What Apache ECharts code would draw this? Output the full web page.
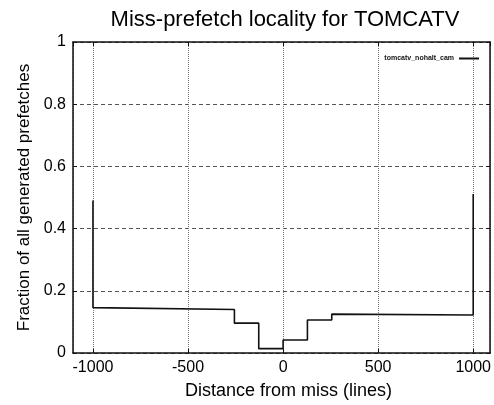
<!DOCTYPE html>
<html>
<head>
<meta charset="utf-8">
<script src="https://cdn.jsdelivr.net/npm/echarts@6/dist/echarts.min.js"></script>
<style>
  html, body { margin: 0; padding: 0; background: #fff; }
  #chart { width: 494px; height: 405px; }
</style>
</head>
<body>
<div id="chart"></div>
<script>
// step outline of the locality histogram
var distance = [-1000, -1000, -256, -256, -128, -128, 0, 0, 128, 128, 256, 256, 1000, 1000];
var fraction = [0.49, 0.146, 0.14, 0.096, 0.096, 0.014, 0.014, 0.042, 0.042, 0.106, 0.106, 0.125, 0.122, 0.511];
var seriesName = 'tomcatv_nohalt_cam';

var points = [];
for (var i = 0; i < distance.length; i++) {
	points.push([distance[i], fraction[i]]);
}

var chart = echarts.init(document.getElementById('chart'));
var font = 'Liberation Sans, Arial, sans-serif';
var option = {
	backgroundColor: '#fff',
	animation: false,
	title: {
		text: 'Miss-prefetch locality for TOMCATV',
		left: 280,
		textAlign: 'center',
		top: 4,
		textStyle: { fontFamily: font, fontSize: 22, fontWeight: 'normal', color: '#000' }
	},
	legend: {
		data: [seriesName],
		right: 10,
		top: 50,
		align: 'right',
		itemWidth: 20,
		itemHeight: 2,
		icon: 'rect',
		textStyle: { fontFamily: font, fontSize: 7, fontWeight: 'bold', color: '#111' }
	},
	grid: { left: 73, right: 3, top: 42, bottom: 50 },
	xAxis: [{
		type: 'value',
		min: -1105,
		max: 1089,
		splitNumber: 5,
		name: 'Distance from miss (lines)',
		nameLocation: 'middle',
		nameGap: 29,
		nameTextStyle: { fontFamily: font, fontSize: 18, color: '#000', padding: [0, 0, 0, 14] },
		axisLine: { show: true, onZero: false, lineStyle: { color: '#111', width: 1.5 } },
		axisTick: { show: true, inside: true, length: 4, lineStyle: { color: '#111' } },
		axisLabel: {
			showMinLabel: false, showMaxLabel: false,
			fontFamily: font, fontSize: 16, color: '#000', margin: 7,
			formatter: function (v) { return String(v); }
		},
		splitLine: { show: true, lineStyle: { color: '#777', type: 'dotted', width: 1 } }
	}, {
		type: 'value',
		position: 'top',
		min: -1105,
		max: 1089,
		splitNumber: 5,
		axisLine: { show: true, onZero: false, lineStyle: { color: '#111', width: 1.5 } },
		axisTick: { show: true, inside: true, length: 4, lineStyle: { color: '#111' } },
		axisLabel: { show: false },
		splitLine: { show: false }
	}],
	yAxis: [{
		type: 'value',
		min: 0,
		max: 1,
		interval: 0.2,
		name: 'Fraction of all generated prefetches',
		nameLocation: 'middle',
		nameGap: 40,
		nameTextStyle: { fontFamily: font, fontSize: 17, color: '#000' },
		axisLine: { show: true, onZero: false, lineStyle: { color: '#111', width: 1.5 } },
		axisTick: { show: true, inside: true, length: 4, lineStyle: { color: '#111' } },
		axisLabel: { fontFamily: font, fontSize: 16, color: '#000', margin: 7 },
		splitLine: { show: true, lineStyle: { color: '#555', type: [4, 3], width: 1 } }
	}, {
		type: 'value',
		position: 'right',
		min: 0,
		max: 1,
		interval: 0.2,
		axisLine: { show: true, onZero: false, lineStyle: { color: '#111', width: 1.5 } },
		axisTick: { show: true, inside: true, length: 4, lineStyle: { color: '#111' } },
		axisLabel: { show: false },
		splitLine: { show: false }
	}],
	series: [{
		name: seriesName,
		type: 'line',
		data: points,
		showSymbol: false,
		symbol: 'none',
		lineStyle: { color: '#111', width: 1.6 },
		itemStyle: { color: '#111' }
	}]
};
chart.setOption(option);
</script>
</body>
</html>
